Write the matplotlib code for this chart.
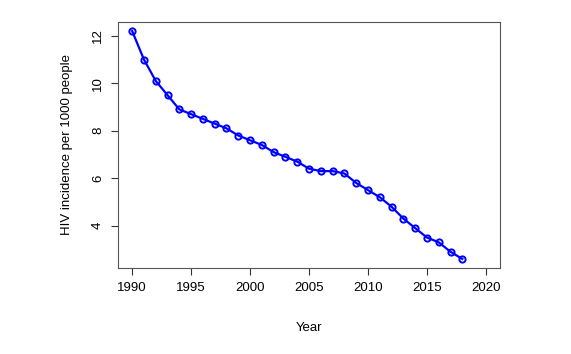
import numpy as np
import matplotlib
matplotlib.use("Agg")
import matplotlib.pyplot as plt

plt.rcParams["font.family"] = ["Liberation Sans", "DejaVu Sans"]

years = list(range(1990, 2019))
incidence = [12.2, 11.0, 10.1, 9.5, 8.9, 8.7, 8.5, 8.3, 8.1, 7.8,
             7.6, 7.4, 7.1, 6.9, 6.7, 6.4, 6.3, 6.3, 6.2, 5.8,
             5.5, 5.2, 4.8, 4.3, 3.9, 3.5, 3.3, 2.9, 2.6]

fig = plt.figure(figsize=(5.71, 3.54), dpi=100)
ax = fig.add_axes([0.2067, 0.2429, 0.669, 0.695])

ax.plot(years, incidence, color="blue", lw=1.6, marker="o", ms=4.5,
        mfc="none", mec="blue", mew=1.4)

ax.set_xlim(1988.8, 2021.2)
ax.set_ylim(2.216, 12.584)
ax.set_xticks([1990, 1995, 2000, 2005, 2010, 2015, 2020])
ax.set_yticks([4, 6, 8, 10, 12])
ax.tick_params(direction="out", length=5, labelsize=9.5, color="#333333", pad=5)
for lab in ax.get_yticklabels():
    lab.set_rotation(90)
    lab.set_va("center")
for s in ax.spines.values():
    s.set_color("#555555")
ax.set_xlabel("Year", fontsize=9.5, labelpad=20)
ax.set_ylabel("HIV incidence per 1000 people", fontsize=9.5, labelpad=14)

fig.savefig("out.png", dpi=100)
